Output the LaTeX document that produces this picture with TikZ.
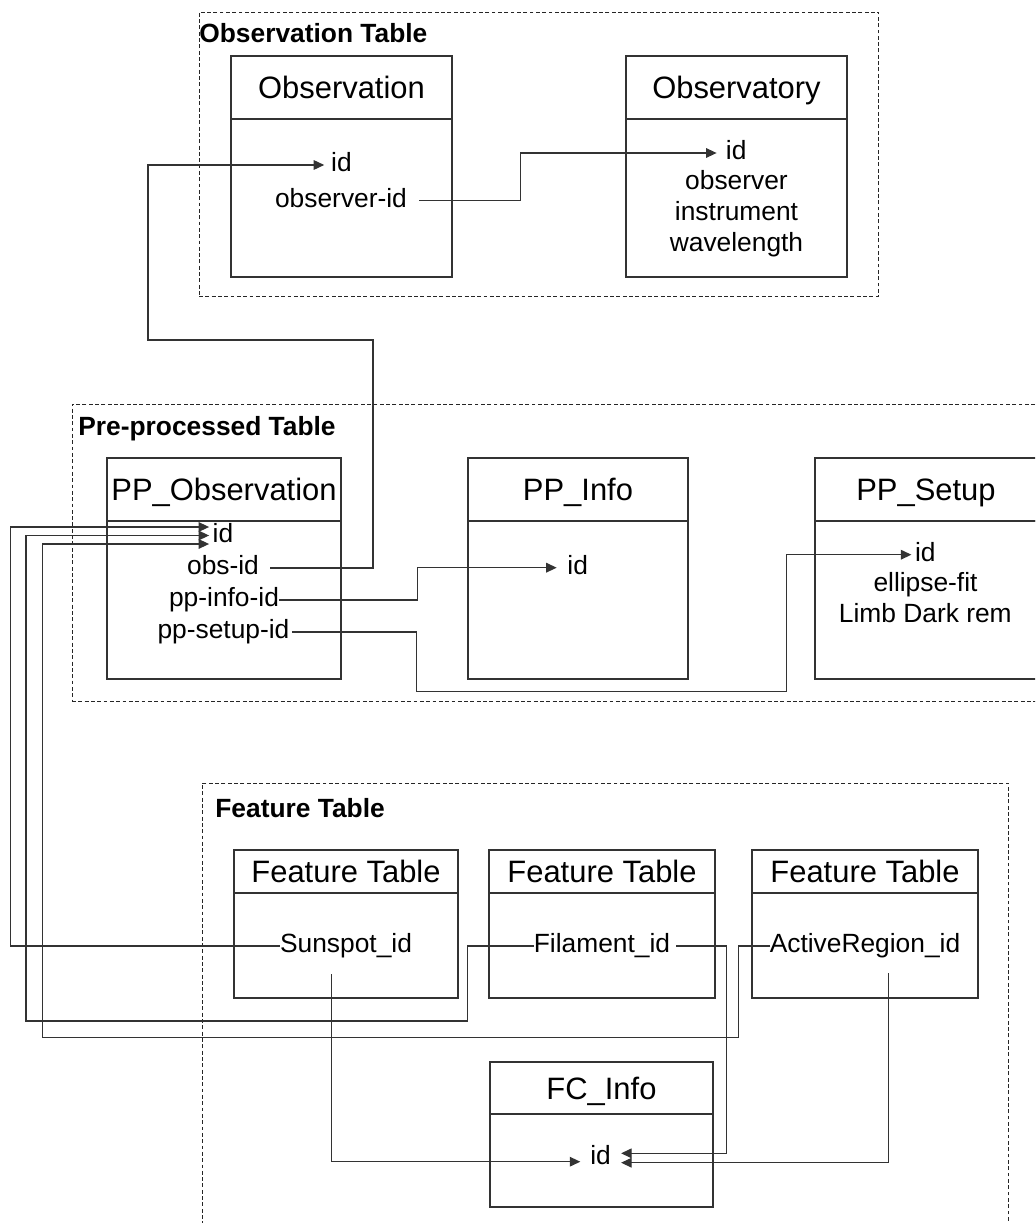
\documentclass[tikz,border=0pt]{standalone}
\usepackage{fontspec}
\setmainfont{Liberation Sans}
\usetikzlibrary{arrows.meta, positioning, calc}
\tikzset{
  grpframe/.style={rectangle, draw=black!85, line width=0.5pt, dash pattern=on 2.2pt off 1.4pt,
                   inner sep=0pt, outer sep=0pt, anchor=north west},
  grplabel/.style={font=\fontsize{15}{18}\selectfont\bfseries, inner sep=0pt, anchor=base west},
  head/.style={rectangle, draw=black!80, line width=0.7pt, inner sep=0pt, outer sep=0pt,
               text height=12.6pt, text depth=0pt, font=\fontsize{17.6}{21}\selectfont, anchor=north west},
  body/.style={rectangle, draw=black!80, line width=0.7pt, inner sep=0pt, outer sep=0pt},
  field/.style={font=\fontsize{15}{18}\selectfont, inner sep=0pt, text height=10.8pt, text depth=3pt},
  link/.style={draw=black!80, line width=0.65pt},
  arrow/.style={link, -{Triangle[length=6pt, width=5.5pt]}},
}
\begin{document}
\begin{tikzpicture}[x=0.02cm, y=-0.02cm]
  \useasboundingbox (0,0) rectangle (1035,1223);
  \clip (0,0) rectangle (1035,1223);

  % Groups
  \node[grpframe, minimum width=13.6cm, minimum height=5.68cm] (obsFrame) at (199,12) {};
  \node[grplabel] (obsLabel) at (199,42.7) {Observation Table};
  \node[grpframe, minimum width=19.5cm, minimum height=5.95cm] (ppFrame) at (72,404) {};
  \node[grplabel] (ppLabel) at (78,435) {Pre-processed Table};
  \node[grpframe, minimum width=16.13cm, minimum height=9.2cm] (featFrame) at (202,783) {};
  \node[grplabel] (featLabel) at (215,817) {Feature Table};

  % Tables
  \node[head, minimum width=4.42cm, minimum height=1.26cm] (obsH) at (231,56) {Observation};
  \node[body, minimum width=4.42cm, minimum height=3.16cm, below=0pt of obsH] (obsB) {};
  \node[head, minimum width=4.42cm, minimum height=1.26cm] (obsyH) at (626,56) {Observatory};
  \node[body, minimum width=4.42cm, minimum height=3.16cm, below=0pt of obsyH] (obsyB) {};

  \node[head, minimum width=4.68cm, minimum height=1.26cm] (ppoH) at (107,458) {PP\_Observation};
  \node[body, minimum width=4.68cm, minimum height=3.16cm, below=0pt of ppoH] (ppoB) {};
  \node[head, minimum width=4.40cm, minimum height=1.26cm] (ppiH) at (468,458) {PP\_Info};
  \node[body, minimum width=4.40cm, minimum height=3.16cm, below=0pt of ppiH] (ppiB) {};
  \node[head, minimum width=4.44cm, minimum height=1.26cm] (ppsH) at (815,458) {PP\_Setup};
  \node[body, minimum width=4.44cm, minimum height=3.16cm, below=0pt of ppsH] (ppsB) {};

  \node[head, minimum width=4.48cm, minimum height=0.86cm] (ssH) at (234,850) {Feature Table};
  \node[body, minimum width=4.48cm, minimum height=2.10cm, below=0pt of ssH] (ssB) {};
  \node[head, minimum width=4.52cm, minimum height=0.86cm] (filH) at (489,850) {Feature Table};
  \node[body, minimum width=4.52cm, minimum height=2.10cm, below=0pt of filH] (filB) {};
  \node[head, minimum width=4.52cm, minimum height=0.86cm] (arH) at (752,850) {Feature Table};
  \node[body, minimum width=4.52cm, minimum height=2.10cm, below=0pt of arH] (arB) {};
  \node[head, minimum width=4.46cm, minimum height=1.04cm] (fcH) at (490,1062) {FC\_Info};
  \node[body, minimum width=4.46cm, minimum height=1.86cm, below=0pt of fcH] (fcB) {};

  % Fields
  \node[field] (obsId) at (341.5,165) {id};
  \node[field] (obsObserverId) at (341,200.5) {observer-id};
  \node[field] (obsyId) at (736.2,153) {id};
  \node[field] (obsyObserver) at (736.5,183) {observer};
  \node[field] (obsyInstrument) at (736.5,214) {instrument};
  \node[field] (obsyWavelength) at (736.5,245) {wavelength};

  \node[field] (ppoId) at (223,535.5) {id};
  \node[field] (ppoObsId) at (223,568) {obs-id};
  \node[field] (ppoInfoId) at (224,600) {pp-info-id};
  \node[field] (ppoSetupId) at (223.5,632) {pp-setup-id};
  \node[field] (ppiId) at (577.7,567.7) {id};
  \node[field] (ppsId) at (925.3,554.7) {id};
  \node[field] (ppsEllipse) at (925.5,584.3) {ellipse-fit};
  \node[field] (ppsLimb) at (925.3,616) {Limb Dark rem};

  \node[field] (ssId) at (346,946) {Sunspot\_id};
  \node[field] (filId) at (602,946) {Filament\_id};
  \node[field] (arId) at (865,946) {ActiveRegion\_id};
  \node[field] (fcId) at (600.5,1158) {id};

  % Edges (elbow lines, drawn over the boxes)
  \draw[arrow] ($(ppoObsId.east)+(11,0)$) -| (373,340) -- (148,340) |- ($(obsId.west)+(-6.7,0)$);
  \draw[arrow] ($(obsObserverId.east)+(12,0)$) -- ++(101.4,0) |- ($(obsyId.west)+(-9,0)$);
  \draw[arrow] (ppoInfoId.east) -- ++(138,0) |- ($(ppiId.west)+(-10.4,0)$);
  \draw[arrow] ($(ppoSetupId.east)+(2,0)$) -- ++(125,0) -- ++(0,59.7) -- ++(369.7,0)
    |- ($(ppsId.west)+(-3.3,0)$);

  % Feature ids back to PP_Observation
  \draw[arrow] (ssId.west) -- ++(-269,0) |- ($(ppoId.west)+(-3.3,-8.5)$);
  \draw[arrow] (filId.west) -| (467.7,1021) -- (26,1021) |- ($(ppoId.west)+(-3.3,0)$);
  \draw[arrow] ($(arId.west)+(1,0)$) -| (738.7,1037.7) -- (42.7,1037.7) |- ($(ppoId.west)+(-3.3,8.5)$);

  % Feature ids to FC_Info
  \draw[arrow] ($(ssId.south)+(-14.3,15.7)$) |- ($(fcId.west)+(-9.6,3.7)$);
  \draw[arrow] ($(filId.east)+(6,0)$) -- ++(50.2,0) |- ($(fcId.east)+(10,-4.7)$);
  \draw[arrow] ($(arId.south)+(23.2,15)$) |- ($(fcId.east)+(10,4.7)$);

\end{tikzpicture}
\end{document}
